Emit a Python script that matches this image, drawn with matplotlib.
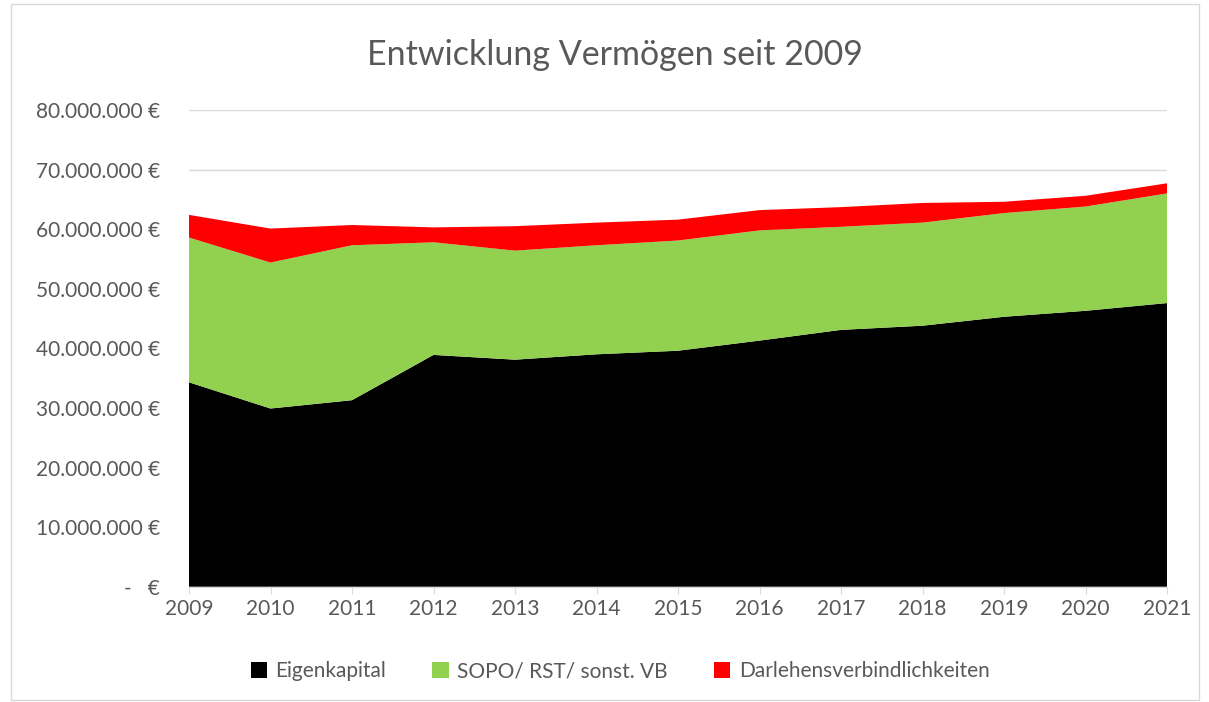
import matplotlib
matplotlib.use("Agg")
import matplotlib.pyplot as plt
from matplotlib.patches import Rectangle
from matplotlib.ticker import FuncFormatter

years = [2009, 2010, 2011, 2012, 2013, 2014, 2015, 2016, 2017, 2018, 2019, 2020, 2021]
eigenkapital = [34.3, 29.9, 31.3, 38.9, 38.1, 39.0, 39.6, 41.3, 43.1, 43.8, 45.3, 46.3, 47.6]
sopo = [24.3, 24.5, 26.0, 18.9, 18.3, 18.3, 18.5, 18.5, 17.3, 17.3, 17.4, 17.5, 18.4]
darlehen = [3.8, 5.7, 3.4, 2.5, 4.1, 3.8, 3.5, 3.4, 3.3, 3.3, 1.9, 1.8, 1.7]
labels = ["Eigenkapital", "SOPO/ RST/ sonst. VB", "Darlehensverbindlichkeiten"]
colors = ["#000000", "#92D050", "#FF0000"]

plt.rcParams['font.family'] = ['Lato', 'DejaVu Sans']

fig = plt.figure(figsize=(12.09, 7.02), dpi=100)
ax = fig.add_axes([189/1209, 1 - 586.7/702, (1167-189)/1209, (586.7-110)/702])

scale = 1e6
ys = [[v * scale for v in s] for s in (eigenkapital, sopo, darlehen)]
ax.stackplot(years, *ys, colors=colors, labels=labels, linewidth=0)

ax.set_xlim(2009, 2021)
ax.set_ylim(0, 80e6)
ax.set_yticks([i * 10e6 for i in range(9)])
ax.set_xticks(years)

def fmt(v, pos):
    if v == 0:
        return "-   €"
    return f"{int(v):,}".replace(",", ".") + " €"

ax.yaxis.set_major_formatter(FuncFormatter(fmt))
ax.grid(axis='y', color='#D9D9D9', linewidth=1)
ax.set_axisbelow(True)
for s in ['left', 'right', 'top']:
    ax.spines[s].set_visible(False)
ax.spines['bottom'].set_color('#D9D9D9')
ax.tick_params(axis='y', length=0, pad=21, labelsize=15, labelcolor='#595959')
ax.tick_params(axis='x', length=5, color='#D9D9D9', labelsize=15, labelcolor='#595959', pad=4)

fig.text(615/1209, 1 - 55/702, "Entwicklung Vermögen seit 2009", ha='center', va='center',
         fontsize=24.5, color='#595959')

handles, lbls = ax.get_legend_handles_labels()
leg = fig.legend(handles, lbls, loc='center', bbox_to_anchor=(620/1209, 1 - 671/702), ncol=3,
                 frameon=False, fontsize=15, handlelength=0.8, handleheight=0.8,
                 handletextpad=0.4, columnspacing=2.2)
for t in leg.get_texts():
    t.set_color('#595959')

fig.patches.append(Rectangle((11/1209, 2/702), (1199-11)/1209, (698-2)/702, transform=fig.transFigure,
                             fill=False, edgecolor='#D9D9D9', linewidth=1))

fig.savefig("out.png", dpi=100)
